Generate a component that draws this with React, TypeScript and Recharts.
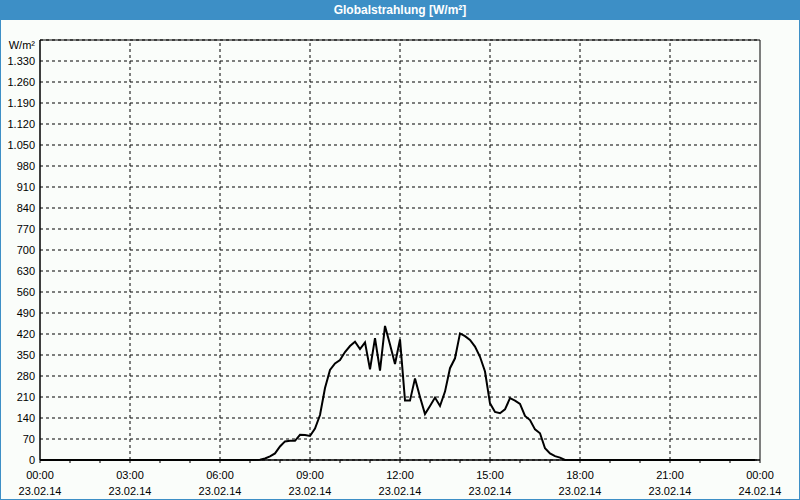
import React from 'react';
import {
  LineChart,
  Line,
  XAxis,
  YAxis,
  CartesianGrid,
  ReferenceLine,
  ReferenceArea,
} from 'recharts';

// 10-minute readings, 23.02.14
const times = [
  '00:00',
  '07:00', '07:10', '07:20', '07:30', '07:40', '07:50',
  '08:00', '08:10', '08:20', '08:30', '08:40', '08:50',
  '09:00', '09:10', '09:20', '09:30', '09:40', '09:50',
  '10:00', '10:10', '10:20', '10:30', '10:40', '10:50',
  '11:00', '11:10', '11:20', '11:30', '11:40', '11:50',
  '12:00', '12:10', '12:20', '12:30', '12:40', '12:50',
  '13:00', '13:10', '13:20', '13:30', '13:40', '13:50',
  '14:00', '14:10', '14:20', '14:30', '14:40', '14:50',
  '15:00', '15:10', '15:20', '15:30', '15:40', '15:50',
  '16:00', '16:10', '16:20', '16:30', '16:40', '16:50',
  '17:00', '17:10', '17:20', '17:30',
  '23:50',
];

const radiation = [
  0,
  0, 0, 1, 5, 12, 22,
  45, 62, 64, 64, 84, 83,
  80, 105, 150, 240, 300, 322,
  333, 360, 380, 394, 370, 392,
  302, 406, 298, 447, 385, 320,
  402, 198, 198, 272, 210, 153,
  180, 208, 180, 228, 306, 339,
  422, 413, 400, 378, 344, 295,
  189, 160, 156, 169, 206, 198,
  187, 147, 133, 102, 89, 39,
  22, 13, 8, 0,
  0,
];

const yTicks = [
  0, 70, 140, 210, 280, 350, 420, 490, 560, 630, 700,
  770, 840, 910, 980, 1050, 1120, 1190, 1260, 1330, 1400,
];

const labelMinutes = [0, 180, 360, 540, 720, 900, 1080, 1260, 1440];
const labelTimes = ['00:00', '03:00', '06:00', '09:00', '12:00', '15:00', '18:00', '21:00', '00:00'];
const labelDates = [
  '23.02.14', '23.02.14', '23.02.14', '23.02.14', '23.02.14',
  '23.02.14', '23.02.14', '23.02.14', '24.02.14',
];

const toMinutes = (s: string) => {
  const [h, m] = s.split(':').map(Number);
  return h * 60 + m;
};

const data = times.map((t, i) => ({ t: toMinutes(t), v: radiation[i] }));
const hourTicks = Array.from({ length: 25 }, (_, i) => i * 60);

const fmtY = (v: number) => {
  if (v === 1400) return 'W/m²';
  if (v >= 1000) return `${Math.floor(v / 1000)}.${String(v % 1000).padStart(3, '0')}`;
  return String(v);
};

const FONT = '"Liberation Sans", Arial, sans-serif';

const XTick = (props: any) => {
  const { x, y, payload } = props;
  const idx = labelMinutes.indexOf(payload.value);
  if (idx < 0) return <g />;
  return (
    <g>
      <text x={x} y={y} dy={14} textAnchor="middle" fontSize={11} fontFamily={FONT} fill="#000">
        {labelTimes[idx]}
      </text>
      <text x={x} y={y} dy={30} textAnchor="middle" fontSize={11} fontFamily={FONT} fill="#000">
        {labelDates[idx]}
      </text>
    </g>
  );
};

const YTick = (props: any) => {
  const { x, y, payload } = props;
  const top = payload.value === 1400;
  return (
    <text x={x} y={y} dy={top ? 9 : 4} textAnchor="end" fontSize={11} fontFamily={FONT} fill="#000">
      {fmtY(payload.value)}
    </text>
  );
};

export default function App() {
  return (
    <div
      style={{
        position: 'absolute',
        left: 0,
        top: 0,
        width: 800,
        height: 500,
        background: '#FAFDFA',
        fontFamily: FONT,
      }}
    >
      <div
        style={{
          height: 20,
          background: '#3D8FC6',
          color: '#fff',
          fontWeight: 'bold',
          fontSize: 12,
          textAlign: 'center',
          lineHeight: '20px',
        }}
      >
        Globalstrahlung [W/m²]
      </div>
      <LineChart
        width={800}
        height={480}
        data={data}
        style={{ position: 'absolute', left: 0, top: 20 }}
        margin={{ top: 20, right: 40, bottom: 0, left: 0 }}
      >
        <CartesianGrid vertical={false} stroke="#000" strokeDasharray="3 3" />
        <XAxis
          dataKey="t"
          type="number"
          domain={[0, 1440]}
          ticks={hourTicks}
          interval={0}
          height={40}
          tick={<XTick />}
          tickSize={3}
          tickMargin={2}
          tickLine={{ stroke: '#000' }}
          axisLine={{ stroke: '#000' }}
        />
        <YAxis
          type="number"
          domain={[0, 1400]}
          ticks={yTicks}
          interval={0}
          width={40}
          tick={<YTick />}
          tickSize={0}
          tickMargin={5}
          tickLine={false}
          axisLine={{ stroke: '#000' }}
        />
        {labelMinutes.slice(1, -1).map((m) => (
          <ReferenceLine key={m} x={m} stroke="#000" strokeDasharray="3 3" />
        ))}
        <ReferenceArea x1={0} x2={1440} y1={0} y2={1400} fill="none" stroke="#000" strokeWidth={1} />
        <Line
          type="linear"
          dataKey="v"
          stroke="#000"
          strokeWidth={2}
          dot={false}
          isAnimationActive={false}
        />
      </LineChart>
      <div
        style={{
          position: 'absolute',
          left: 0,
          top: 0,
          width: 800,
          height: 500,
          boxSizing: 'border-box',
          border: '1px solid #3D8FC6',
          pointerEvents: 'none',
        }}
      />
    </div>
  );
}
